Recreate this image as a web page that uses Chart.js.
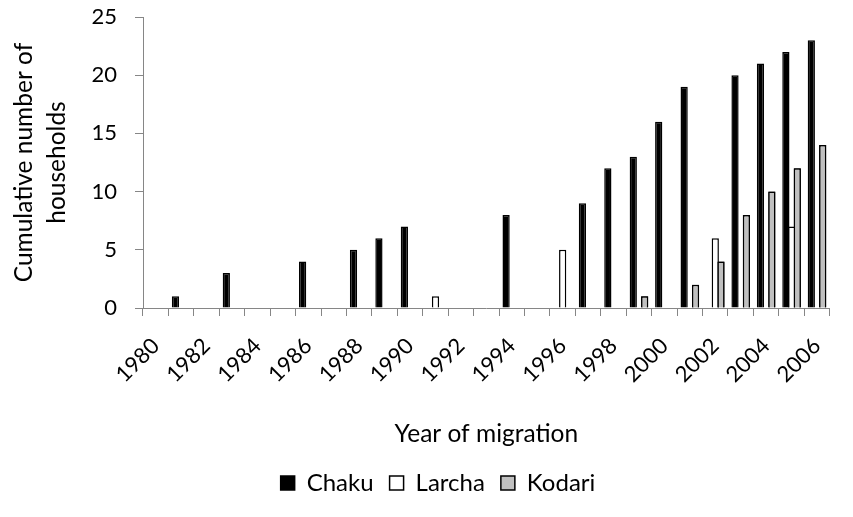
<!DOCTYPE html>
<html>
<head>
<meta charset="utf-8">
<script src="https://cdn.jsdelivr.net/npm/chart.js@4/dist/chart.umd.min.js"></script>
<style>
    body { margin: 0; background: #fff; }
</style>
</head>
<body>
<canvas id="graficoMigracion" width="853" height="517"></canvas>
<script>
// Cumulative households per village by year of migration

var years = [1980, 1981, 1982, 1983, 1984, 1985, 1986, 1987, 1988, 1989,
             1990, 1991, 1992, 1993, 1994, 1995, 1996, 1997, 1998, 1999,
             2000, 2001, 2002, 2003, 2004, 2005, 2006];

var chaku = [null, 1, null, 3, null, null, 4, null, 5, 6,
             7, null, null, null, 8, null, null, 9, 12, 13,
             16, 19, null, 20, 21, 22, 23];

var larcha = [null, null, null, null, null, null, null, null, null, null,
              null, 1, null, null, null, null, 5, null, null, null,
              null, null, 6, null, null, 7, null];

var kodari = [null, null, null, null, null, null, null, null, null, null,
              null, null, null, null, null, null, null, null, null, 1,
              null, 2, 4, 8, 10, 12, 14];

var yTicks = [0, 5, 10, 15, 20, 25];

var fuente = 'Lato';
var gris = '#868686';

// Kodari bars go back on top of the Larcha ones they overlap
var kodariEncima = {
    id: 'kodariEncima',
    afterDatasetsDraw: function(chart) {
        chart.getDatasetMeta(2).controller.draw();
    }
};

function graficoMigracion() {
    const ctx = document.getElementById('graficoMigracion').getContext('2d');
    const chart = new Chart(ctx, {
        type: 'bar',
        data: {
            labels: years,
            datasets: [{
                label: 'Chaku',
                data: chaku,
                backgroundColor: '#000000',
                borderColor: '#000000',
                borderWidth: 1.5
            }, {
                label: 'Larcha',
                data: larcha,
                backgroundColor: '#ffffff',
                borderColor: '#000000',
                borderWidth: 1.5
            }, {
                label: 'Kodari',
                data: kodari,
                backgroundColor: '#c0c0c0',
                borderColor: '#000000',
                borderWidth: 1.5
            }]
        },
        options: {
            responsive: false,
            animation: false,
            categoryPercentage: 0.672,
            barPercentage: 1.27,
            layout: {
                padding: { left: 40, right: 17, top: 0, bottom: 12 }
            },
            scales: {
                x: {
                    grid: {
                        display: true,
                        drawOnChartArea: false,
                        drawTicks: true,
                        tickLength: 8,
                        color: gris
                    },
                    border: { display: true, color: gris, width: 1 },
                    ticks: {
                        autoSkip: false,
                        minRotation: 45,
                        maxRotation: 45,
                        padding: 17,
                        color: '#000000',
                        font: { family: fuente, size: 22 },
                        callback: function(value, index) {
                            return years[index] % 2 === 0 ? String(years[index]) : '';
                        }
                    },
                    title: {
                        display: true,
                        text: 'Year of migration',
                        color: '#000000',
                        font: { family: fuente, size: 24.5, lineHeight: 1.2 },
                        padding: { top: 0, bottom: 6 }
                    },
                    afterFit: function(scale) {
                        scale.height = 147;
                    }
                },
                y: {
                    min: 0,
                    max: 25,
                    afterBuildTicks: function(scale) {
                        scale.ticks = yTicks.map(function(v) { return { value: v }; });
                    },
                    grid: {
                        display: true,
                        drawOnChartArea: false,
                        drawTicks: true,
                        tickLength: 8,
                        color: gris
                    },
                    border: { display: true, color: gris, width: 1 },
                    ticks: {
                        padding: 18,
                        color: '#000000',
                        font: { family: fuente, size: 22 }
                    },
                    title: {
                        display: true,
                        text: ['Cumulative number of', 'households'],
                        color: '#000000',
                        font: { family: fuente, size: 24.5, lineHeight: '33px' },
                        padding: { top: -32, bottom: 0 }
                    },
                    afterFit: function(scale) {
                        scale.width = 103;
                        // the tick padding would otherwise also push the top of the plot down
                        scale.paddingTop = 17;
                        scale.paddingBottom = 0;
                    }
                }
            },
            plugins: {
                legend: {
                    position: 'bottom',
                    labels: {
                        color: '#000000',
                        boxWidth: 14,
                        boxHeight: 14,
                        padding: 16,
                        font: { family: fuente, size: 24 }
                    }
                },
                tooltip: { enabled: false }
            }
        },
        plugins: [kodariEncima]
    });
}

graficoMigracion();
</script>
</body>
</html>
